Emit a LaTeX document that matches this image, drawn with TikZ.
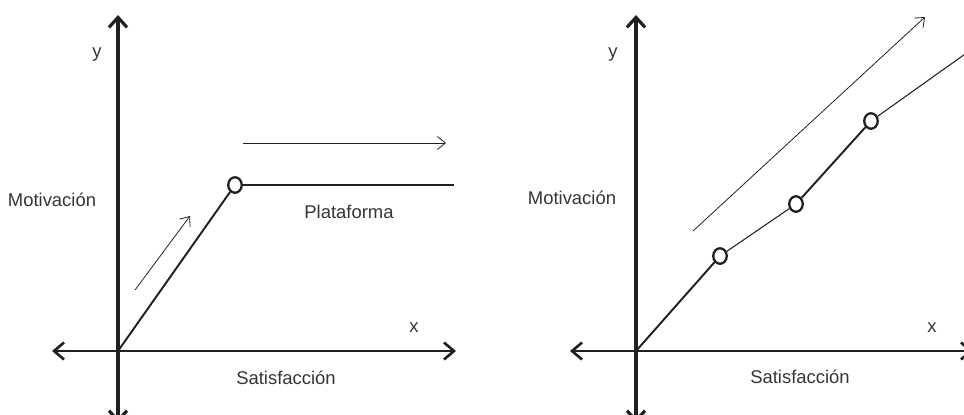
\documentclass[tikz,border=0pt]{standalone}
\usepackage{fontspec}
\setmainfont{Liberation Sans}
\usepackage{xcolor}
\usetikzlibrary{arrows.meta, positioning, shapes.geometric}
\definecolor{ink}{RGB}{35,31,32}
\definecolor{txt}{RGB}{55,52,53}

\begin{document}
\begin{tikzpicture}[x=0.02cm, y=-0.02cm, font=\fontsize{10.5}{12}\selectfont,
  yax/.style={draw=ink, line width=1.8pt, {Straight Barb[length=2mm, width=3.6mm]}-{Straight Barb[length=2mm, width=3.6mm]}},
  xax/.style={draw=ink, line width=1.1pt, {Straight Barb[length=2mm, width=3.4mm, line width=1.5pt]}-{Straight Barb[length=2mm, width=3.4mm, line width=1.5pt]}},
  ray/.style={draw=ink, line width=1.1pt},
  flat/.style={draw=ink, line width=0.6pt},
  pt/.style={ellipse, draw=ink, fill=white, line width=1.3pt, minimum width=0.27cm, minimum height=0.31cm, inner sep=0pt},
  ar/.style={draw=ink, line width=0.45pt, -{Straight Barb[length=1.6mm, width=2.6mm]}},
  lbl/.style={text=txt, inner sep=0pt}]
  \useasboundingbox (0,0) rectangle (964,414);
  \clip (0,0) rectangle (964,414);

  % left: plateau
  \coordinate (o1) at (118,351);
  \coordinate (yt1) at (118,15);
  \coordinate (yb1) at (118,423);
  \coordinate (xl1) at (52,351);
  \coordinate (xr1) at (456,351);
  \draw[yax] (yb1) -- (yt1);
  \draw[xax] (xl1) -- (xr1);
  \node[pt] (c1) at (235,185) {};
  \coordinate (pe1) at (454,185);
  \draw[ray] (o1) -- (c1);
  \draw[flat] (c1) -- (pe1);
  \coordinate (as1) at (135,290);
  \coordinate (ae1) at (190,216);
  \draw[ar] (as1) -- (ae1);
  \coordinate (hs1) at (243,143);
  \coordinate (he1) at (446,143);
  \draw[ar] (hs1) -- (he1);
  \node[lbl] (ylab1) at (97,55) {y};
  \node[lbl] (mot1) at (52,200) {Motivación};
  \node[lbl] (plat) at (349,212) {Plataforma};
  \node[lbl] (xlab1) at (414,328) {x};
  \node[lbl] (sat1) at (286,378) {Satisfacción};

  % right: steps
  \coordinate (o2) at (636,351);
  \coordinate (yt2) at (636,15);
  \coordinate (yb2) at (636,423);
  \coordinate (xl2) at (570,351);
  \coordinate (xr2) at (973,351);
  \draw[yax] (yb2) -- (yt2);
  \draw[xax] (xl2) -- (xr2);
  \node[pt] (c2) at (720,256) {};
  \node[pt] (c3) at (796,204) {};
  \node[pt] (c4) at (871,121) {};
  \coordinate (pe2) at (975,47);
  \draw[ray] (o2) -- (c2);
  \draw[flat] (c2) -- (c3);
  \draw[ray] (c3) -- (c4);
  \draw[flat] (c4) -- (pe2);
  \coordinate (as2) at (693,231);
  \coordinate (ae2) at (925,17);
  \draw[ar] (as2) -- (ae2);
  \node[lbl] (ylab2) at (613,55) {y};
  \node[lbl] (mot2) at (572,198) {Motivación};
  \node[lbl] (xlab2) at (932,328) {x};
  \node[lbl] (sat2) at (800,377) {Satisfacción};
\end{tikzpicture}
\end{document}
